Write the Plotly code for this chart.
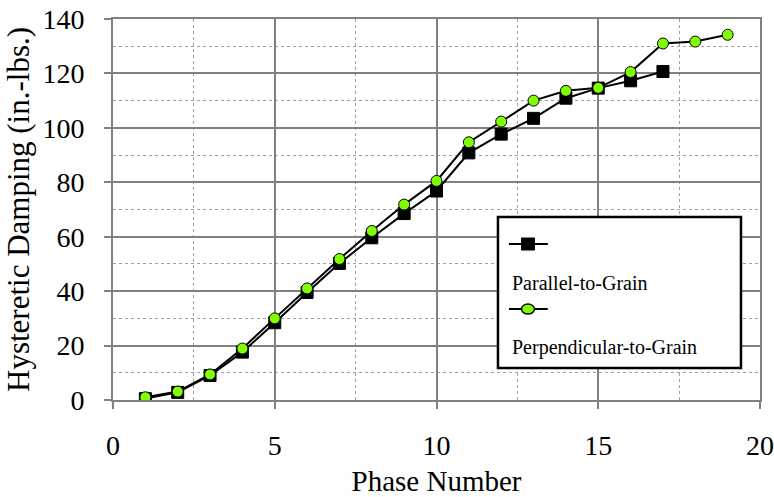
import plotly.graph_objects as go

# Hysteretic damping per loading phase
phase = list(range(1, 20))
parallel_phase = list(range(1, 18))
parallel_damping = [0.5, 2.8, 9.0, 17.6, 28.4, 39.5, 50.2, 59.6, 68.5, 76.8,
                    90.8, 97.7, 103.5, 110.9, 114.6, 117.3, 120.7]
perp_damping = [1.0, 3.1, 9.4, 18.9, 30.0, 41.0, 51.8, 62.1, 71.8, 80.5,
                94.7, 102.3, 110.0, 113.6, 114.7, 120.5, 131.0, 131.7, 134.2]

series_names = ["Parallel-to-Grain", "Perpendicular-to-Grain"]
x_ticks = [0, 5, 10, 15, 20]
y_ticks = [0, 20, 40, 60, 80, 100, 120, 140]

FONT = "Liberation Serif"
GRID = "#808080"
GREEN = "#7FFF00"

fig = go.Figure()

fig.add_trace(go.Scatter(
    x=parallel_phase, y=parallel_damping, mode="lines+markers",
    name=series_names[0], showlegend=False,
    line=dict(color="black", width=2),
    marker=dict(symbol="square", size=12, color="black",
                line=dict(color="black", width=1)),
))
fig.add_trace(go.Scatter(
    x=phase, y=perp_damping, mode="lines+markers",
    name=series_names[1], showlegend=False,
    line=dict(color="black", width=2),
    marker=dict(symbol="circle", size=11, color=GREEN,
                line=dict(color="black", width=1)),
))

# Hand-built legend box (paper coordinates): symbol row above each label
PW, PH = 647.0, 381.0          # plot area size in px, for sizing symbols
box = dict(x0=0.595, x1=0.9706, y0=0.084, y1=0.4803)
sym_x0, sym_x1, sym_xc = 0.612, 0.672, 0.6414
sym_y = [0.4094, 0.2388]
txt_y = [0.307, 0.139]

fig.add_shape(type="rect", xref="paper", yref="paper",
              x0=box["x0"], x1=box["x1"], y0=box["y0"], y1=box["y1"],
              line=dict(color="black", width=2.5), fillcolor="white", layer="above")
for yy in sym_y:
    fig.add_shape(type="line", xref="paper", yref="paper",
                  x0=sym_x0, x1=sym_x1, y0=yy, y1=yy,
                  line=dict(color="black", width=2), layer="above")

sq_w, sq_h = 13 / PW, 12 / PH
fig.add_shape(type="rect", xref="paper", yref="paper",
              x0=sym_xc - sq_w / 2, x1=sym_xc + sq_w / 2,
              y0=sym_y[0] - sq_h / 2, y1=sym_y[0] + sq_h / 2,
              line=dict(color="black", width=1), fillcolor="black", layer="above")
ci_w, ci_h = 13 / PW, 10 / PH
fig.add_shape(type="circle", xref="paper", yref="paper",
              x0=sym_xc - ci_w / 2, x1=sym_xc + ci_w / 2,
              y0=sym_y[1] - ci_h / 2, y1=sym_y[1] + ci_h / 2,
              line=dict(color="black", width=1.5), fillcolor=GREEN, layer="above")

for name, yy in zip(series_names, txt_y):
    fig.add_annotation(xref="paper", yref="paper", x=0.6136, y=yy,
                       text=name, showarrow=False, xanchor="left", yanchor="middle",
                       font=dict(family=FONT, size=20, color="black"))

axis_common = dict(
    showline=True, linecolor=GRID, linewidth=2, mirror=True,
    showgrid=True, gridcolor=GRID, gridwidth=2,
    ticks="outside", ticklen=7, tickwidth=2, tickcolor=GRID,
    tickfont=dict(family=FONT, size=28, color="black"),
    zeroline=False, automargin=False,
)

fig.update_layout(
    width=774, height=497,
    margin=dict(l=113, r=14, t=19, b=97),
    paper_bgcolor="white", plot_bgcolor="white",
    font=dict(family=FONT, color="black"),
    xaxis=dict(
        range=[0, 20], tickvals=x_ticks, ticklabelstandoff=12,
        minor=dict(dtick=2.5, showgrid=True, griddash="dot",
                   gridcolor="#a0a0a0", gridwidth=1, ticks=""),
        title=dict(text="Phase Number", standoff=18,
                   font=dict(family=FONT, size=29, color="black")),
        **axis_common,
    ),
    yaxis=dict(
        range=[0, 140], tickvals=y_ticks, ticklabelstandoff=14,
        minor=dict(dtick=10, showgrid=True, griddash="dot",
                   gridcolor="#a0a0a0", gridwidth=1, ticks=""),
        title=dict(text="Hysteretic Damping (in.-lbs.)", standoff=4,
                   font=dict(family=FONT, size=31, color="black")),
        **axis_common,
    ),
)

fig.write_html("out.html")
